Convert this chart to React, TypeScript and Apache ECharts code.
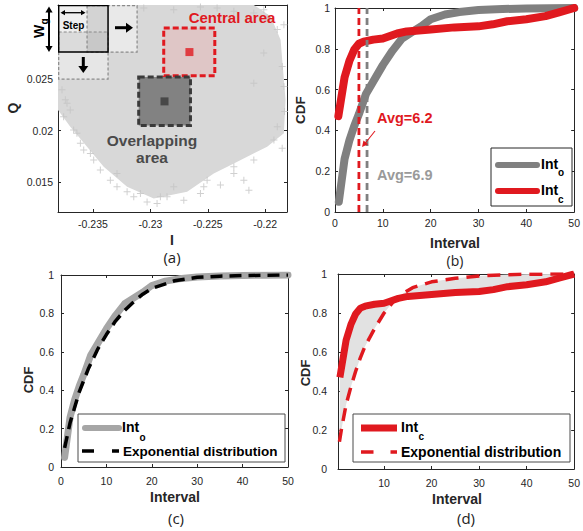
import React, { useEffect, useRef } from "react";
import * as echarts from "echarts";

const FONT = "'Liberation Sans', Arial, Helvetica, sans-serif";
const AXC = "#262626";
const RED = "#e0191f";
const GRAY_B = "#808080";
const GRAY_C = "#a6a6a6";

// ---------- panel (a) ----------
const aXRange = [-0.23805, -0.2181];
const aYRange = [0.0121, 0.0322];
const aXTicks = [-0.235, -0.23, -0.225, -0.22];
const aYTicks = [0.015, 0.02, 0.025];

const cloudX = [-0.23805, -0.22099, -0.21953, -0.21866, -0.21823, -0.21837, -0.21983, -0.22273, -0.22448, -0.2268, -0.22971, -0.23203, -0.23407, -0.23552, -0.23698, -0.23805];
const cloudY = [0.0322, 0.0322, 0.0311, 0.02883, 0.02299, 0.01974, 0.01844, 0.01682, 0.01584, 0.01406, 0.01341, 0.01455, 0.01649, 0.01844, 0.02039, 0.02201];

const crossX = [-0.23058, -0.22797, -0.22564, -0.22273, -0.22012, -0.21837, -0.21983, -0.21808, -0.21852, -0.21808, -0.21831, -0.21852, -0.21924, -0.22142, -0.22273, -0.2239, -0.22099, -0.22564, -0.22709, -0.22942, -0.23029, -0.23087, -0.22797, -0.23203, -0.23349, -0.23523, -0.2361, -0.23436, -0.23291, -0.23727, -0.23756, -0.2377, -0.23698, -0.2364, -0.22099, -0.22012, -0.22506, -0.22913, -0.22273, -0.22186, -0.22535, -0.22855, -0.23145, -0.23291, -0.23494, -0.23581, -0.23669, -0.23741, -0.21895, -0.21837, -0.21895, -0.22099, -0.22419];
const crossY = [0.03192, 0.03175, 0.03201, 0.03159, 0.03175, 0.03029, 0.03094, 0.02818, 0.02623, 0.02266, 0.02185, 0.01828, 0.01909, 0.01422, 0.01584, 0.01471, 0.01714, 0.0139, 0.01325, 0.01292, 0.01308, 0.0139, 0.01455, 0.01406, 0.01519, 0.01779, 0.01877, 0.01617, 0.01584, 0.02266, 0.02136, 0.02396, 0.02201, 0.01974, 0.02461, 0.02753, 0.01519, 0.01357, 0.01649, 0.01519, 0.01455, 0.01357, 0.01357, 0.01455, 0.01714, 0.01812, 0.02006, 0.02299, 0.02039, 0.02429, 0.02981, 0.03143, 0.03192];

// sliding window boxes: main (solid), shifted right, shifted down
const stepX1 = [-0.23799, -0.23552, -0.23799];
const stepX2 = [-0.23369, -0.23116, -0.23369];
const stepYTop = [0.03214, 0.03214, 0.02958];
const stepYBot = [0.02763, 0.02763, 0.025];

const centralBox = [-0.22884, -0.22439, 0.02997, 0.02533];
const overlapBox = [-0.23102, -0.22651, 0.0252, 0.02049];
const centralPt = [-0.2266, 0.02763];
const overlapPt = [-0.22877, 0.02284];

// ---------- CDF panels ----------
const intervalTicks = [0, 10, 20, 30, 40, 50];
const cdfTicks = [0, 0.2, 0.4, 0.6, 0.8, 1];

const intOX = [0.8, 2, 3, 4, 5, 6.5, 8, 10, 12, 14, 16, 18, 20, 23, 26, 30, 35, 40, 45, 50];
const intOY = [0.05, 0.26, 0.35, 0.42, 0.48, 0.58, 0.64, 0.72, 0.79, 0.85, 0.88, 0.91, 0.945, 0.968, 0.98, 0.99, 0.995, 0.998, 0.999, 1.0];

const intCX = [0.7, 2, 3, 4, 5, 6, 8, 10, 13, 15, 20, 25, 30, 33, 36, 40, 44, 47, 50];
const intCY = [0.47, 0.66, 0.74, 0.795, 0.825, 0.835, 0.845, 0.85, 0.875, 0.885, 0.895, 0.905, 0.91, 0.92, 0.935, 0.945, 0.96, 0.98, 1.0];

const expOX = [0.8, 2, 3, 4, 5, 6, 8, 10, 12, 14, 16, 18, 20, 25, 30, 35, 40, 45, 50];
const expOY = [0.1, 0.23, 0.31, 0.39, 0.45, 0.51, 0.61, 0.69, 0.76, 0.815, 0.86, 0.9, 0.93, 0.97, 0.988, 0.994, 0.997, 0.999, 1.0];

const expCX = [0.6, 1, 2, 3, 4, 5, 6, 8, 10, 12, 14, 16, 20, 25, 30, 35, 40, 50];
const expCY = [0.14, 0.2, 0.33, 0.42, 0.5, 0.57, 0.63, 0.72, 0.8, 0.86, 0.9, 0.93, 0.96, 0.978, 0.99, 0.996, 0.999, 1.0];

const avgLineX = [5.0, 6.7];
const avgLabels = ["Avg=6.2", "Avg=6.9"];

const zip = (xs: number[], ys: number[]) => xs.map((x, i) => [x, ys[i]]);

function makeAxes(g: number, xr: number[], xt: number[], yr: number[], yt: number[], xm: number, ym: number) {
  const base = {
    type: "value",
    gridIndex: g,
    splitLine: { show: false },
    axisLine: { show: true, onZero: false, lineStyle: { color: AXC, width: 1 } },
  };
  const tick = (vals: number[]) => ({ show: true, inside: true, length: 3, customValues: vals, lineStyle: { color: AXC, width: 1 } });
  const lab = (vals: number[], margin: number) => ({
    customValues: vals,
    color: AXC,
    fontSize: 10.5,
    fontFamily: FONT,
    margin,
    formatter: (v: number) => String(v),
  });
  return {
    x: [
      { ...base, position: "bottom", min: xr[0], max: xr[1], axisTick: tick(xt), axisLabel: lab(xt, xm) },
      { ...base, position: "top", min: xr[0], max: xr[1], axisTick: tick(xt), axisLabel: { show: false } },
    ],
    y: [
      { ...base, position: "left", min: yr[0], max: yr[1], axisTick: tick(yt), axisLabel: lab(yt, ym) },
      { ...base, position: "right", min: yr[0], max: yr[1], axisTick: tick(yt), axisLabel: { show: false } },
    ],
  };
}

const txt = (x: number, y: number, text: string, o: any = {}) => ({
  type: "text",
  x,
  y,
  z: 100,
  rotation: o.rot || 0,
  style: {
    text,
    fill: o.color || AXC,
    font: `${o.weight || "normal"} ${o.size || 12}px ${o.family || FONT}`,
    align: o.align || "center",
    verticalAlign: "middle",
    textAlign: o.align || "center",
    textVerticalAlign: "middle",
  },
});

const seg = (x1: number, y1: number, x2: number, y2: number, color: string, w: number, extra: any = {}) => ({
  type: "line",
  z: 100,
  shape: { x1, y1, x2, y2 },
  style: { stroke: color, lineWidth: w, ...extra },
});

const head = (x1: number, y1: number, x2: number, y2: number, len: number, half: number, color: string) => {
  const dx = x2 - x1, dy = y2 - y1;
  const L = Math.hypot(dx, dy);
  const ux = dx / L, uy = dy / L;
  const bx = x2 - ux * len, by = y2 - uy * len;
  return {
    type: "polygon",
    z: 100,
    shape: { points: [[x2, y2], [bx - uy * half, by + ux * half], [bx + uy * half, by - ux * half]] },
    style: { fill: color },
  };
};

export default function App() {
  const ref = useRef<HTMLDivElement>(null);
  useEffect(() => {
    if (!ref.current) return;
    const chart = echarts.init(ref.current, undefined, { renderer: "svg" });

    const A = makeAxes(0, aXRange, aXTicks, aYRange, aYTicks, 6, 5);
    const B = makeAxes(1, [0, 50], intervalTicks, [0, 1], cdfTicks, 5, 5);
    const C = makeAxes(2, [0, 50], intervalTicks, [0, 1], cdfTicks, 8, 7);
    const D = makeAxes(3, [0.3, 50], intervalTicks, [0, 1], cdfTicks, 8, 11);

    const lineS = (g: number, data: number[][], color: string, width: number, extra: any = {}) => ({
      type: "line",
      xAxisIndex: 2 * g,
      yAxisIndex: 2 * g,
      data,
      showSymbol: false,
      symbol: "none",
      silent: true,
      lineStyle: { color, width, ...extra },
      z: extra.z || 3,
    });

    const option: any = {
      animation: false,
      backgroundColor: "#ffffff",
      grid: [
        { left: 58, top: 5, width: 229, height: 207 },
        { left: 335, top: 8, width: 242, height: 204 },
        { left: 61, top: 275, width: 227, height: 192 },
        { left: 338, top: 274, width: 239, height: 195 },
      ],
      xAxis: [...A.x, ...B.x, ...C.x, ...D.x],
      yAxis: [...A.y, ...B.y, ...C.y, ...D.y],
      series: [
        // (a) cloud body
        {
          type: "custom",
          xAxisIndex: 0,
          yAxisIndex: 0,
          clip: true,
          z: 1,
          silent: true,
          data: [[cloudX[0], cloudY[0]]],
          renderItem: (_p: any, api: any) => ({
            type: "polygon",
            shape: { points: cloudX.map((x, i) => api.coord([x, cloudY[i]])) },
            style: { fill: "#d8d8d8" },
          }),
        },
        // (a) scattered outlier crosses
        {
          type: "scatter",
          xAxisIndex: 0,
          yAxisIndex: 0,
          z: 2,
          silent: true,
          symbol: "path://M3,0H4V3H7V4H4V7H3V4H0V3H3Z",
          symbolSize: 7,
          itemStyle: { color: "#c4c4c4" },
          data: zip(crossX, crossY),
        },
        // (a) boxes
        {
          type: "custom",
          xAxisIndex: 0,
          yAxisIndex: 0,
          clip: true,
          z: 3,
          silent: true,
          data: [[centralPt[0], centralPt[1]]],
          renderItem: (_p: any, api: any) => {
            const rect = (x1: number, x2: number, yt: number, yb: number) => {
              const p1 = api.coord([x1, yt]);
              const p2 = api.coord([x2, yb]);
              return { x: p1[0], y: p1[1], width: p2[0] - p1[0], height: p2[1] - p1[1] };
            };
            const inter = (a: any, b: any) => {
              const x = Math.max(a.x, b.x), y = Math.max(a.y, b.y);
              const x2 = Math.min(a.x + a.width, b.x + b.width), y2 = Math.min(a.y + a.height, b.y + b.height);
              return { x, y, width: Math.max(0, x2 - x), height: Math.max(0, y2 - y) };
            };
            const bx = [0, 1, 2].map((i) => rect(stepX1[i], stepX2[i], stepYTop[i], stepYBot[i]));
            const m = bx[0], r = bx[1], d = bx[2];
            const cb = rect(centralBox[0], centralBox[1], centralBox[2], centralBox[3]);
            const ob = rect(overlapBox[0], overlapBox[1], overlapBox[2], overlapBox[3]);
            return {
              type: "group",
              children: [
                { type: "rect", shape: r, style: { fill: "rgba(240,240,240,0.72)" } },
                { type: "rect", shape: d, style: { fill: "rgba(236,236,236,0.72)" } },
                { type: "rect", shape: m, style: { fill: "#efefef" } },
                { type: "rect", shape: inter(m, r), style: { fill: "#d3d3d3" } },
                { type: "rect", shape: inter(m, d), style: { fill: "#dbdbdb" } },
                { type: "rect", shape: inter(inter(m, r), d), style: { fill: "#c8c8c8" } },
                { type: "rect", shape: r, style: { fill: "none", stroke: "#8a8a8a", lineWidth: 1.2, lineDash: [3, 2] } },
                { type: "rect", shape: d, style: { fill: "none", stroke: "#8a8a8a", lineWidth: 1.2, lineDash: [3, 2] } },
                { type: "rect", shape: m, style: { fill: "none", stroke: "#000000", lineWidth: 1.5 } },
                { type: "rect", shape: cb, style: { fill: "rgba(235,168,168,0.38)", stroke: RED, lineWidth: 3, lineDash: [6, 3] } },
                { type: "rect", shape: ob, style: { fill: "#828282", stroke: "#3a3a3a", lineWidth: 3, lineDash: [6, 3] } },
              ],
            };
          },
        },
        // (a) window centres
        {
          type: "scatter",
          xAxisIndex: 0,
          yAxisIndex: 0,
          z: 4,
          silent: true,
          symbol: "rect",
          symbolSize: 8,
          data: [
            { value: centralPt, itemStyle: { color: RED } },
            { value: overlapPt, itemStyle: { color: "#3a3a3a" } },
          ],
        },
        // (b)
        lineS(1, zip(intOX, intOY), GRAY_B, 8, { cap: "round", join: "round" }),
        lineS(1, zip(intCX, intCY), RED, 8, { cap: "round", join: "round", z: 4 }),
        lineS(1, [[avgLineX[0], 0], [avgLineX[0], 1]], RED, 2.8, { type: [7, 4], z: 5 }),
        lineS(1, [[avgLineX[1], 0], [avgLineX[1], 1]], GRAY_B, 2.8, { type: [7, 4], z: 5 }),
        // (c)
        lineS(2, zip(intOX, intOY), GRAY_C, 7, { cap: "round", join: "round" }),
        lineS(2, zip(expOX, expOY), "#000000", 3.5, { type: [12, 7], z: 4 }),
        // (d) shaded difference
        {
          type: "custom",
          xAxisIndex: 6,
          yAxisIndex: 6,
          clip: true,
          z: 2,
          silent: true,
          data: [[intCX[0], intCY[0]]],
          renderItem: (_p: any, api: any) => {
            const pts = intCX.map((x, i) => api.coord([x, intCY[i]]));
            for (let i = expCX.length - 1; i >= 0; i--) pts.push(api.coord([expCX[i], expCY[i]]));
            return { type: "polygon", shape: { points: pts }, style: { fill: "#e2e2e2" } };
          },
        },
        lineS(3, zip(intCX, intCY), RED, 7, { join: "round" }),
        lineS(3, zip(expCX, expCY), RED, 3.5, { type: [13, 8], z: 4 }),
      ],
      graphic: [
        // ---- (a) annotations ----
        seg(62, 12.7, 84, 12.7, "#000", 1.3),
        head(70, 12.7, 60.5, 12.7, 4.5, 2.6, "#000"),
        head(76, 12.7, 85.5, 12.7, 4.5, 2.6, "#000"),
        txt(73.5, 25, "Step", { weight: "bold", size: 10, color: "#000" }),
        seg(49, 11, 49, 47.5, "#000", 2),
        head(49, 20, 49, 6.5, 6, 3.6, "#000"),
        head(49, 40, 49, 52, 6, 3.6, "#000"),
        txt(39, 31.5, "W", { weight: "bold", size: 14, color: "#000", rot: Math.PI / 2 }),
        txt(44, 21.5, "g", { weight: "bold", size: 10, color: "#000", rot: Math.PI / 2 }),
        seg(115, 27.7, 127, 27.7, "#000", 3),
        head(115, 27.7, 133, 27.7, 7, 5, "#000"),
        seg(83.3, 57, 83.3, 67, "#000", 3),
        head(83.3, 57, 83.3, 73, 7, 5, "#000"),
        txt(232, 17.5, "Central area", { weight: "bold", size: 15, color: RED }),
        txt(152, 140, "Overlapping", { weight: "bold", size: 15.5, color: "#4a4a4a" }),
        txt(152, 157, "area", { weight: "bold", size: 15.5, color: "#4a4a4a" }),
        txt(13, 108, "Q", { weight: "bold", size: 14, rot: Math.PI / 2 }),
        txt(172, 240, "I", { weight: "bold", size: 14 }),
        txt(172, 257, "(a)", { size: 15, family: "'Open Sans', sans-serif", color: "#222" }),
        // ---- (b) annotations ----
        txt(377, 118, avgLabels[0], { weight: "bold", size: 14.5, color: RED, align: "left" }),
        seg(375, 131, 365, 143.5, RED, 1.1),
        head(375, 131, 362, 147, 6, 3, RED),
        txt(377, 175, avgLabels[1], { weight: "bold", size: 14.5, color: "#9a9a9a", align: "left" }),
        { type: "rect", z: 100, shape: { x: 491, y: 148, width: 81, height: 58 }, style: { fill: "#fff", stroke: AXC, lineWidth: 1 } },
        seg(498, 165, 537, 165, GRAY_B, 6, { lineCap: "round" }),
        txt(541, 164, "Int", { weight: "bold", size: 14, align: "left", color: "#000" }),
        txt(558, 172, "o", { weight: "bold", size: 10, align: "left", color: "#000" }),
        seg(498, 191, 537, 191, RED, 6, { lineCap: "round" }),
        txt(541, 190, "Int", { weight: "bold", size: 14, align: "left", color: "#000" }),
        txt(558, 199, "c", { weight: "bold", size: 10, align: "left", color: "#000" }),
        txt(300, 110, "CDF", { weight: "bold", size: 13.5, rot: Math.PI / 2 }),
        txt(455, 242.5, "Interval", { weight: "bold", size: 14 }),
        txt(455, 260, "(b)", { size: 14, family: "'Open Sans', sans-serif", color: "#222" }),
        // ---- (c) annotations ----
        { type: "rect", z: 100, shape: { x: 78, y: 414, width: 207, height: 48 }, style: { fill: "#fff", stroke: "#4a4a4a", lineWidth: 1 } },
        seg(85, 428, 119, 428, GRAY_C, 6, { lineCap: "round" }),
        txt(122, 427, "Int", { weight: "bold", size: 14, align: "left", color: "#000" }),
        txt(139.5, 437, "o", { weight: "bold", size: 10, align: "left", color: "#000" }),
        seg(82, 451, 119, 451, "#000", 3.5, { lineDash: [12, 18] }),
        txt(123, 451, "Exponential distribution", { weight: "bold", size: 13.5, align: "left", color: "#000" }),
        txt(28, 380, "CDF", { weight: "bold", size: 13, rot: Math.PI / 2 }),
        txt(175, 497, "Interval", { weight: "bold", size: 14 }),
        txt(176, 517.5, "(c)", { size: 15, family: "'Open Sans', sans-serif", color: "#222" }),
        // ---- (d) annotations ----
        { type: "rect", z: 100, shape: { x: 353, y: 414, width: 217, height: 48 }, style: { fill: "#fff", stroke: "#4a4a4a", lineWidth: 1 } },
        seg(361, 428, 397, 428, RED, 7),
        txt(401, 427, "Int", { weight: "bold", size: 14, align: "left", color: "#000" }),
        txt(418.5, 436, "c", { weight: "bold", size: 10, align: "left", color: "#000" }),
        seg(361, 452, 397, 452, RED, 3.5, { lineDash: [12.5, 17] }),
        txt(401, 452, "Exponential distribution", { weight: "bold", size: 14, align: "left", color: "#000" }),
        txt(305, 373, "CDF", { weight: "bold", size: 13, rot: Math.PI / 2 }),
        txt(457, 499, "Interval", { weight: "bold", size: 14 }),
        txt(466, 517.5, "(d)", { size: 15, family: "'Open Sans', sans-serif", color: "#222" }),
      ],
    };

    chart.setOption(option);
    return () => chart.dispose();
  }, []);

  return (
    <div
      ref={ref}
      style={{ position: "absolute", left: 0, top: 0, width: 583, height: 531, background: "#fff" }}
    />
  );
}
